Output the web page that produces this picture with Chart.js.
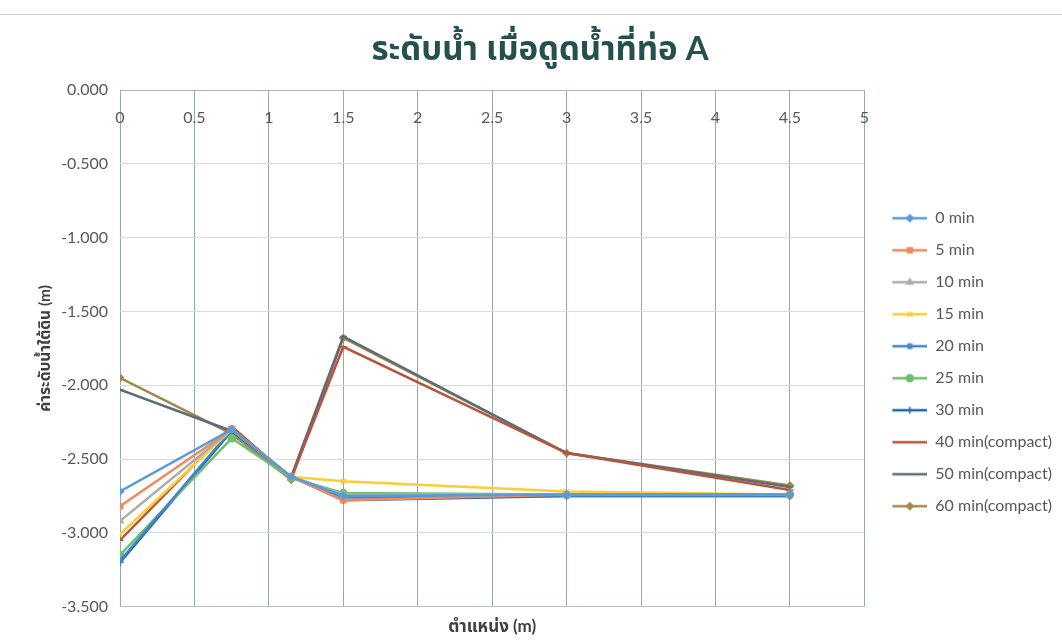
<!DOCTYPE html>
<html>
<head>
<meta charset="utf-8">
<script src="https://cdn.jsdelivr.net/npm/chart.js@4.4.1/dist/chart.umd.min.js"></script>
<style>
  html, body { margin: 0; padding: 0; background: #ffffff; }
  #wrap { position: relative; width: 1062px; height: 644px; }
  #frame { position: absolute; left: 0; top: 14px; width: 1062px; height: 1px; background: #cfcfcf; }
  #c { position: absolute; left: 0; top: 0; }
</style>
</head>
<body>
<div id="wrap">
  <div id="frame"></div>
  <canvas id="c" width="1062" height="644"></canvas>
</div>
<script>
// Measurement positions along the line (m)
const positions = [0, 0.75, 1.15, 1.5, 3, 4.5];

// Series names (elapsed pumping time)
const seriesNames = [
  '0 min', '5 min', '10 min', '15 min', '20 min', '25 min', '30 min',
  '40 min(compact)', '50 min(compact)', '60 min(compact)'
];

// Groundwater level at each position (m)
const level0min  = [-2.72, -2.30, -2.62, -2.75, -2.74, -2.74];
const level5min  = [-2.82, -2.30, -2.62, -2.78, -2.74, -2.74];
const level10min = [-2.92, -2.30, -2.62, -2.74, -2.74, -2.74];
const level15min = [-3.01, -2.30, -2.62, -2.65, -2.72, -2.74];
const level20min = [-3.19, -2.30, -2.62, -2.76, -2.75, -2.75];
const level25min = [-3.15, -2.36, -2.63, -2.73, -2.74, -2.74];
const level30min = [-3.20, -2.31, -2.62, -2.78, -2.75, -2.75];
const level40min = [-3.05, -2.28, -2.63, -1.74, -2.46, -2.71];
const level50min = [-2.03, -2.31, -2.62, -1.67, -2.46, -2.69];
const level60min = [-1.95, -2.33, -2.64, -1.68, -2.46, -2.68];

// Axis tick labels
const xTickValues = [0, 0.5, 1, 1.5, 2, 2.5, 3, 3.5, 4, 4.5, 5];
const yTickValues = [0, -0.5, -1, -1.5, -2, -2.5, -3, -3.5];

const chartTitle = 'ระดับน้ำ เมื่อดูดน้ำที่ท่อ A';
const xTitle = 'ตำแหน่ง (m)';
const yTitle = 'ค่าระดับน้ำใต้ดิน (m)';

const seriesValues = [level0min, level5min, level10min, level15min, level20min,
                      level25min, level30min, level40min, level50min, level60min];

const colors = ['#5B9BD5', '#F08A5D', '#ADADAD', '#FFCC33', '#3F85CC',
                '#6DBE6F', '#1E64A8', '#B85440', '#5E6B78', '#A08A4C'];
const markers = ['rectRot', 'rect', 'triangle', 'crossRot', 'star',
                 'circle', 'cross', 'line', 'line', 'rectRot'];

const FONT = "Lato, 'Noto Sans', 'Noto Sans Thai', 'Loma', 'Garuda', 'Tlwg Typo', sans-serif";
Chart.defaults.font.family = FONT;
Chart.defaults.color = '#595959';

// Legend swatch: short line with the series marker in its middle
function makeSwatch(color, style) {
  const c = document.createElement('canvas');
  c.width = 47; c.height = 12;
  const g = c.getContext('2d');
  g.strokeStyle = color;
  g.fillStyle = color;
  g.lineWidth = 2.5;
  g.beginPath(); g.moveTo(12, 6); g.lineTo(47, 6); g.stroke();
  g.lineWidth = 1.5;
  if (Chart.helpers && Chart.helpers.drawPoint) {
    Chart.helpers.drawPoint(g, { pointStyle: style, radius: 3.5, borderWidth: 1.5, rotation: 0 }, 29.5, 6);
  }
  return c;
}
const swatches = colors.map((col, i) => makeSwatch(col, markers[i]));

const datasets = seriesNames.map((name, i) => ({
  label: name,
  data: positions.map((x, j) => ({ x: x, y: seriesValues[i][j] })),
  borderColor: colors[i],
  backgroundColor: colors[i],
  pointStyle: markers[i],
  pointRadius: 3.5,
  pointHoverRadius: 3.5,
  pointBorderWidth: 1.5,
  borderWidth: 2.5,
  tension: 0,
  fill: false,
  showLine: true
}));

new Chart(document.getElementById('c'), {
  type: 'scatter',
  data: { datasets: datasets },
  options: {
    responsive: false,
    animation: false,
    devicePixelRatio: 1,
    layout: { padding: { top: 0, left: 18, right: 0, bottom: 3 } },
    plugins: {
      tooltip: { enabled: false },
      title: {
        display: true,
        text: chartTitle,
        color: '#25504D',
        font: { size: 33, weight: 'bold' },
        padding: { top: 29.8, bottom: 20.6 }
      },
      legend: {
        position: 'right',
        align: 'center',
        title: { display: true, text: '', font: { size: 12 }, padding: { top: 0, bottom: 69 } },
        labels: {
          usePointStyle: true,
          pointStyleWidth: 47,
          boxHeight: 12,
          padding: 16,
          color: '#404040',
          font: { size: 16 },
          generateLabels: function (chart) {
            return chart.data.datasets.map((ds, i) => ({
              text: ds.label,
              pointStyle: swatches[i],
              fillStyle: ds.borderColor,
              strokeStyle: ds.borderColor,
              lineWidth: 0,
              hidden: false,
              datasetIndex: i
            }));
          }
        }
      }
    },
    scales: {
      x: {
        type: 'linear',
        position: 'bottom',
        min: 0,
        max: 5,
        afterBuildTicks: s => { s.ticks = xTickValues.map(v => ({ value: v })); },
        ticks: { display: false },
        grid: { color: '#9AA6BA', lineWidth: 1, drawTicks: false },
        border: { display: true, color: '#B8C0CC' },
        title: {
          display: true,
          text: xTitle,
          color: '#404040',
          font: { size: 17, weight: 'bold' },
          padding: { top: 10, bottom: 4 }
        }
      },
      xTop: {
        type: 'linear',
        axis: 'x',
        position: { y: 0 },
        min: 0,
        max: 5,
        afterBuildTicks: s => { s.ticks = xTickValues.map(v => ({ value: v })); },
        ticks: {
          padding: 10,
          maxRotation: 0,
          autoSkip: false,
          color: '#595959',
          font: { size: 16 },
          callback: v => String(v)
        },
        grid: { display: false },
        border: { display: true, color: '#B0B0B0' }
      },
      y: {
        type: 'linear',
        min: -3.5,
        max: 0,
        afterBuildTicks: s => { s.ticks = yTickValues.map(v => ({ value: v })); },
        afterFit: s => { s.width = 102; },
        ticks: {
          padding: 12,
          color: '#595959',
          font: { size: 16 },
          callback: v => (Math.abs(v) < 1e-9 ? 0 : v).toFixed(3)
        },
        grid: { color: '#D6DCE6', lineWidth: 1, drawTicks: false },
        border: { display: false },
        title: {
          display: true,
          text: yTitle,
          color: '#404040',
          font: { size: 15.5, weight: 'bold' },
          padding: { top: 18, bottom: 4 }
        }
      }
    }
  }
});
</script>
</body>
</html>
